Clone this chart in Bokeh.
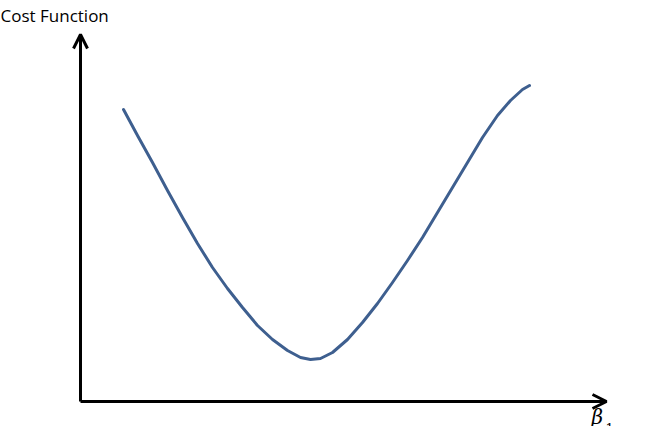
from bokeh.plotting import figure
from bokeh.models import Range1d, Arrow, OpenHead, Label
from bokeh.embed import file_html
from bokeh.resources import INLINE

# curve (pixel-space coordinates, y downward)
curve_x = [131, 145, 160, 175, 190, 205, 220, 235, 250, 265, 280, 295, 308, 318, 328, 340, 355, 370, 385, 400, 415, 430, 445, 460, 475, 490, 505, 518, 530, 537]
curve_y = [117, 143, 170, 198, 225, 251, 275, 296, 315, 333, 347, 358, 365, 367, 366, 360, 347, 330, 311, 290, 268, 245, 220, 195, 170, 145, 123, 108, 97, 93]
origin = (88, 409)
y_axis_end = 42
x_axis_end = 614
y_title = "Cost Function"
x_title = "β"
x_sub = "1"

p = figure(width=648, height=426, output_backend="svg", toolbar_location=None,
           x_range=Range1d(8, 656), y_range=Range1d(434, 8))
p.axis.visible = False
p.grid.visible = False
p.outline_line_color = None
p.min_border = 0

p.line(curve_x, curve_y, line_color="#3e5f8f", line_width=3, line_join="round", line_cap="round")

p.add_layout(Arrow(end=OpenHead(size=14, line_width=3, line_color="black"),
                   x_start=origin[0], y_start=origin[1], x_end=origin[0], y_end=y_axis_end,
                   line_width=3, line_color="black"))
p.add_layout(Arrow(end=OpenHead(size=14, line_width=3, line_color="black"),
                   x_start=origin[0], y_start=origin[1], x_end=x_axis_end, y_end=origin[1],
                   line_width=3, line_color="black"))

p.add_layout(Label(x=8, y=34, text=y_title, text_font="Open Sans", text_font_size="17px",
                   text_color="black"))
p.add_layout(Label(x=599, y=436, text=x_title, text_font="DejaVu Serif", text_font_style="italic",
                   text_font_size="20px", text_color="black"))
p.add_layout(Label(x=613, y=440, text=x_sub, text_font="DejaVu Serif",
                   text_font_size="13px", text_color="black"))

open("out.html", "w").write(file_html(p, INLINE))
